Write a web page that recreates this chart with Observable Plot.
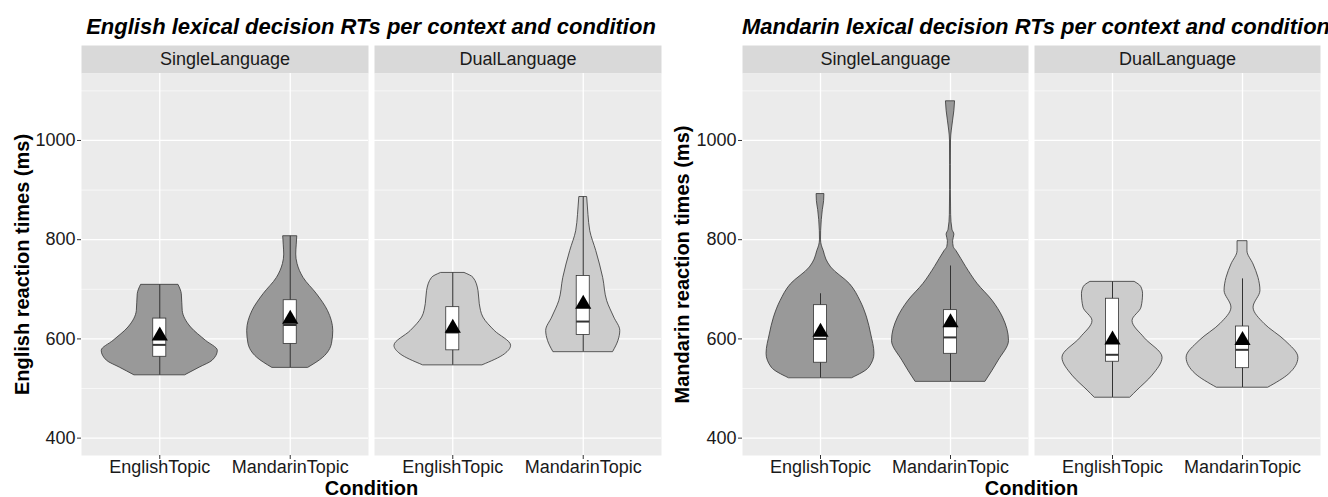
<!DOCTYPE html>
<html><head><meta charset="utf-8">
<script src="https://cdn.jsdelivr.net/npm/d3@7"></script>
<script src="https://cdn.jsdelivr.net/npm/@observablehq/plot@0.6"></script>
<style>
body{margin:0;background:#fff;font-family:"Liberation Sans",Arial,sans-serif;}
#wrap{display:flex;width:1328px;}
.chart{width:664px;}
.title{height:45px;box-sizing:border-box;padding-top:14px;line-height:26px;font-size:22px;font-weight:bold;font-style:italic;text-align:center;color:#000;white-space:nowrap;}
svg{display:block;}
</style></head><body>
<div id="wrap"><div class="chart" id="c1"></div><div class="chart" id="c2"></div></div>
<script>
const contexts = ["SingleLanguage", "DualLanguage"];
const conditions = ["EnglishTopic", "MandarinTopic"];
const yTicks = [400, 600, 800, 1000];
const yMinor = [500, 700, 900, 1100];
const yDomain = [365, 1135];

// violin profiles: [reaction time (ms), half width (category units)]
const engSingleEng = [[709,0.143],[690,0.169],[656,0.176],[623,0.24],[596,0.355],[576,0.445],[556,0.405],[542,0.305],[527,0.197]];
const engSingleMan = [[807,0.054],[790,0.05],[770,0.046],[751,0.056],[723,0.102],[690,0.205],[656,0.29],[616,0.33],[590,0.32],[562,0.253],[542,0.14]];
const engDualEng = [[733,0.09],[723,0.159],[697,0.197],[670,0.207],[643,0.235],[616,0.322],[586,0.447],[569,0.4],[547,0.23]];
const engDualMan = [[886,0.03],[850,0.04],[817,0.054],[777,0.1],[723,0.153],[676,0.184],[643,0.238],[616,0.284],[596,0.27],[574,0.23]];

const manSingleEng = [[892,0.03],[878,0.028],[860,0.018],[840,0.01],[817,0.005],[800,0.004],[788,0.01],[777,0.025],[760,0.045],[744,0.082],[710,0.228],[676,0.308],[643,0.358],[609,0.39],[570,0.415],[542,0.375],[521,0.245]];
const manSingleMan = [[1079,0.035],[1060,0.03],[1040,0.02],[1020,0.01],[1000,0.004],[950,0.003],[900,0.003],[850,0.005],[820,0.015],[810,0.03],[797,0.02],[785,0.025],[777,0.046],[745,0.12],[711,0.208],[677,0.323],[643,0.404],[596,0.45],[556,0.37],[514,0.27]];
const manDualEng = [[715,0.17],[705,0.22],[690,0.235],[663,0.223],[636,0.154],[602,0.246],[562,0.385],[526,0.308],[496,0.192],[482,0.138]];
const manDualMan = [[797,0.038],[777,0.038],[750,0.085],[723,0.123],[697,0.138],[663,0.085],[630,0.17],[596,0.33],[562,0.43],[529,0.36],[502,0.2]];

// boxplot summaries: [context, condition, whiskerLow, q1, median, q3, whiskerHigh, mean]
const engBoxes = [
  ["SingleLanguage","EnglishTopic",527,564,588,641,709,606],
  ["SingleLanguage","MandarinTopic",542,590,628,678,807,640],
  ["DualLanguage","EnglishTopic",547,577,613,664,733,622],
  ["DualLanguage","MandarinTopic",574,608,635,727,886,670]
];
const manBoxes = [
  ["SingleLanguage","EnglishTopic",521,552,600,668,691,614],
  ["SingleLanguage","MandarinTopic",514,570,603,658,747,633],
  ["DualLanguage","EnglishTopic",482,554,568,681,715,598],
  ["DualLanguage","MandarinTopic",502,541,578,625,721,597]
];

const titles = ["English lexical decision RTs per context and condition", "Mandarin lexical decision RTs per context and condition"];
const yTitles = ["English reaction times (ms)", "Mandarin reaction times (ms)"];
const xTitle = "Condition";

function buildChart(el, title, yLabel, violins, boxes, m) {
  const rows = [];
  violins.forEach(([ctx, cond, prof]) => {
    prof.slice().sort((a, b) => a[0] - b[0]).forEach(([v, w]) =>
      rows.push({ctx, cond, pos: conditions.indexOf(cond) + 1, v, w}));
  });
  const bx = boxes.map(([ctx, cond, lo, q1, med, q3, hi, mean]) =>
    ({ctx, cond, pos: conditions.indexOf(cond) + 1, lo, q1, med, q3, hi, mean}));
  const bw = 0.05;
  const plotW = 664 - m.left - m.right;
  const step = (plotW + 6) / 2;
  const violinMark = (ctx, fill) => Plot.areaX(rows.filter(d => d.ctx === ctx), {
    fx: "ctx", z: "cond", y: "v", x1: d => d.pos - d.w, x2: d => d.pos + d.w,
    fill, stroke: "#333", strokeWidth: 0.8, curve: "monotone-y"
  });
  const svg = Plot.plot({
    width: 664, height: 452,
    marginLeft: m.left, marginRight: m.right, marginTop: 28, marginBottom: 42,
    style: {fontFamily: '"Liberation Sans", Arial, sans-serif', fontSize: "18px", background: "transparent", color: "#1a1a1a", overflow: "visible"},
    fx: {domain: contexts, paddingInner: 6 / step, paddingOuter: 0, axis: null, label: null},
    x: {domain: [0.4, 2.6]},
    y: {domain: yDomain},
    marks: [
      Plot.frame({fill: "#EBEBEB"}),
      Plot.gridY(yMinor, {stroke: "#fff", strokeOpacity: 1, strokeWidth: 0.6}),
      Plot.gridY(yTicks, {stroke: "#fff", strokeOpacity: 1, strokeWidth: 1.3}),
      Plot.gridX([1, 2], {stroke: "#fff", strokeOpacity: 1, strokeWidth: 1.3}),
      violinMark("SingleLanguage", "#999999"),
      violinMark("DualLanguage", "#CCCCCC"),
      Plot.ruleX(bx, {fx: "ctx", x: "pos", y1: "lo", y2: "hi", stroke: "#333", strokeWidth: 1}),
      Plot.rect(bx, {fx: "ctx", x1: d => d.pos - bw, x2: d => d.pos + bw, y1: "q1", y2: "q3", fill: "#fff", stroke: "#333", strokeWidth: 0.8}),
      Plot.ruleY(bx, {fx: "ctx", y: "med", x1: d => d.pos - bw, x2: d => d.pos + bw, stroke: "#333", strokeWidth: 2}),
      Plot.dot(bx, {fx: "ctx", x: "pos", y: "mean", symbol: "triangle", r: 6, fill: "#000", stroke: null}),
      Plot.axisY({ticks: yTicks, tickFormat: d => String(d), tickSize: 4, tickPadding: 2, label: null, stroke: "#333"}),
      Plot.axisX({ticks: [1, 2], tickFormat: i => conditions[i - 1], tickSize: 4, tickPadding: 1, label: null, stroke: "#333"}),
      Plot.text(contexts, {fx: d => d, text: d => d, frameAnchor: "top", lineAnchor: "middle", dy: -14, fontSize: 18, fill: "#1a1a1a"}),
      Plot.text([yLabel], {fx: () => "SingleLanguage", text: d => d, frameAnchor: "left", textAnchor: "middle", lineAnchor: "middle", rotate: -90, dx: m.yl, fontSize: 20, fontWeight: "bold", fill: "#000"}),
      Plot.text([xTitle], {fx: () => "SingleLanguage", text: d => d, frameAnchor: "bottom-right", dx: 3, dy: 33, textAnchor: "middle", lineAnchor: "middle", fontSize: 20, fontWeight: "bold", fill: "#000"})
    ]
  });
  // strip backgrounds above each facet panel
  svg.querySelectorAll('g[aria-label="frame"] rect').forEach(r => {
    const s = r.cloneNode();
    const y = +r.getAttribute("y");
    s.setAttribute("y", y - 28);
    s.setAttribute("height", 28);
    s.setAttribute("fill", "#D9D9D9");
    s.setAttribute("stroke", "none");
    r.parentNode.insertBefore(s, r);
  });
  const t = document.createElement("div");
  t.className = "title";
  t.style.paddingLeft = m.left + "px";
  t.style.paddingRight = m.right + "px";
  t.textContent = title;
  el.appendChild(t);
  el.appendChild(svg);
}

buildChart(document.getElementById("c1"), titles[0], yTitles[0], [
  ["SingleLanguage", "EnglishTopic", engSingleEng],
  ["SingleLanguage", "MandarinTopic", engSingleMan],
  ["DualLanguage", "EnglishTopic", engDualEng],
  ["DualLanguage", "MandarinTopic", engDualMan]
], engBoxes, {left: 81, right: 3, yl: -59});

buildChart(document.getElementById("c2"), titles[1], yTitles[1], [
  ["SingleLanguage", "EnglishTopic", manSingleEng],
  ["SingleLanguage", "MandarinTopic", manSingleMan],
  ["DualLanguage", "EnglishTopic", manDualEng],
  ["DualLanguage", "MandarinTopic", manDualMan]
], manBoxes, {left: 78, right: 8, yl: -60});
</script>
</body></html>
